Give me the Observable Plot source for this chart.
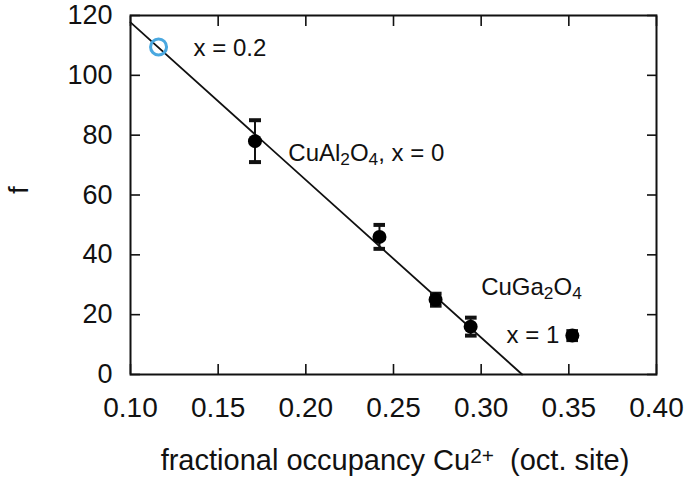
<!DOCTYPE html>
<html><head><meta charset="utf-8">
<script src="https://cdn.jsdelivr.net/npm/d3@7"></script>
<script src="https://cdn.jsdelivr.net/npm/@observablehq/plot@0.6"></script>
<style>body{margin:0;background:#fff;} svg{display:block;}</style>
</head><body><div id="chart"></div>
<script>
// Data
const occupancy = [0.171, 0.242, 0.274, 0.294, 0.352];
const fValues   = [78, 46, 25, 16, 13];
const errLow    = [71, 42, 23, 13, 11.5];
const errHigh   = [85, 50, 27, 19, 14.5];
const openX = [0.116];
const openY = [109.5];
const fitX = [0.10, 0.3234];
const fitY = [117.7, 0];
const xTicks = [0.10, 0.15, 0.20, 0.25, 0.30, 0.35, 0.40];
const yTicks = [0, 20, 40, 60, 80, 100, 120];
const labels = ["x = 0.2", "CuAl_2O_4, x = 0", "CuGa_2O_4", "x = 1"];
const labelX = [0.136, 0.190, 0.3, 0.3145];
const labelY = [109, 74, 29, 13];

const pts = occupancy.map((x, i) => ({x, y: fValues[i], lo: errLow[i], hi: errHigh[i]}));
const fit = fitX.map((x, i) => ({x, y: fitY[i]}));
const ann = labels.map((t, i) => ({t, x: labelX[i], y: labelY[i]}));

const chart = Plot.plot({
  width: 685, height: 477,
  marginLeft: 130, marginRight: 29, marginTop: 15, marginBottom: 103,
  style: {fontFamily: "'Liberation Sans', Arial, sans-serif", fontSize: "27px", color: "#111"},
  x: {domain: [0.10, 0.40]},
  y: {domain: [0, 120]},
  marks: [
    Plot.axisX({anchor: "bottom", ticks: xTicks, tickSize: -10, tickPadding: 33, tickFormat: d3.format(".2f"), label: null, fontSize: 28, strokeWidth: 1.6}),
    Plot.axisX({anchor: "top", ticks: xTicks, tickSize: -10, tickFormat: () => "", label: null, strokeWidth: 1.6}),
    Plot.axisY({anchor: "left", ticks: yTicks, tickSize: -10, tickPadding: 28, label: null, fontSize: 27, strokeWidth: 1.6}),
    Plot.axisY({anchor: "right", ticks: yTicks, tickSize: -10, tickFormat: () => "", label: null, strokeWidth: 1.6}),
    Plot.frame({stroke: "#111", strokeWidth: 2}),
    Plot.line(fit, {x: "x", y: "y", stroke: "#111", strokeWidth: 1.8}),
    Plot.link(pts, {x1: "x", x2: "x", y1: "lo", y2: "hi", stroke: "#111", strokeWidth: 2, marker: "tick"}),
    Plot.dot(pts, {x: "x", y: "y", r: 7, fill: "#000"}),
    Plot.dot(openX.map((x, i) => ({x, y: openY[i]})), {x: "x", y: "y", r: 8, stroke: "#4aa8e0", strokeWidth: 3, fill: "none"}),
    Plot.text(ann, {x: "x", y: "y", text: "t", textAnchor: "start", fontSize: 24, fill: "#111"})
  ]
});

// subscripts / superscripts as tspans
function richify(textEl) {
  const s = textEl.textContent;
  if (!/[_^]/.test(s)) return;
  const sel = d3.select(textEl);
  sel.text(null);
  const re = /([_^])(\{[^}]*\}|.)/g;
  let last = 0, m;
  while ((m = re.exec(s))) {
    if (m.index > last) sel.append("tspan").text(s.slice(last, m.index));
    const content = m[2].startsWith("{") ? m[2].slice(1, -1) : m[2];
    sel.append("tspan").attr("baseline-shift", m[1] === "_" ? "-25%" : "35%").attr("font-size", "0.72em").text(content);
    last = re.lastIndex;
  }
  if (last < s.length) sel.append("tspan").text(s.slice(last));
}
d3.select(chart).selectAll("text").each(function() { richify(this); });

const svg = d3.select(chart);
const xl = svg.append("text").attr("x", 395).attr("y", 470).attr("text-anchor", "middle")
  .attr("font-size", 29).attr("fill", "#111").text("fractional occupancy Cu^{2+}\u00a0 (oct. site)");
richify(xl.node());
svg.append("text").attr("transform", "translate(28,190) rotate(-90)").attr("text-anchor", "middle")
  .attr("font-size", 28).attr("fill", "#111").text("f");

document.getElementById("chart").appendChild(chart);
</script>
</body></html>
